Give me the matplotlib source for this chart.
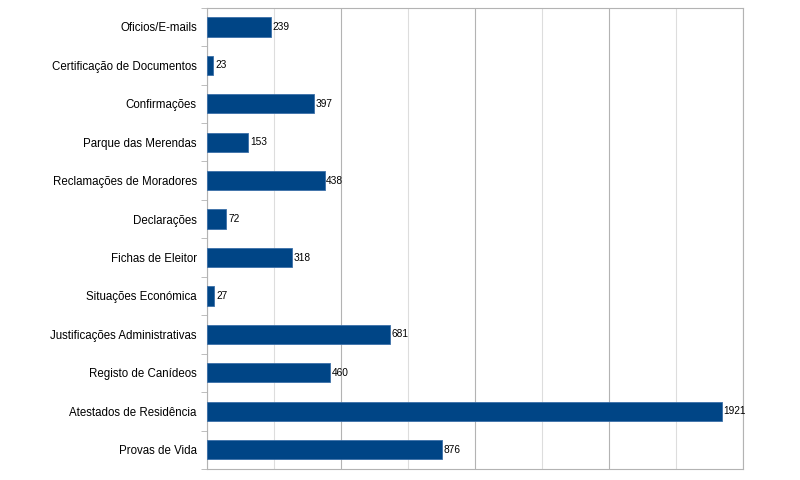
import numpy as np
import matplotlib
matplotlib.use("Agg")
import matplotlib.pyplot as plt
from matplotlib.ticker import MultipleLocator

# Categories listed from top to bottom, as in the chart.

categories = [
    "Oficios/E-mails",
    "Certificação de Documentos",
    "Confirmações",
    "Parque das Merendas",
    "Reclamações de Moradores",
    "Declarações",
    "Fichas de Eleitor",
    "Situações Económica",
    "Justificações Administrativas",
    "Registo de Canídeos",
    "Atestados de Residência",
    "Provas de Vida",
]

counts = [239, 23, 397, 153, 438, 72, 318, 27, 681, 460, 1921, 876]

x_max = 2000

plt.rcParams["font.family"] = ["Liberation Sans Narrow", "Liberation Sans", "DejaVu Sans"]

fig = plt.figure(figsize=(8, 4.8), dpi=100)
ax = fig.add_axes([0.259, 0.023, 0.67, 0.961])

y = np.arange(len(categories))

bars = ax.barh(y, counts, height=0.5, color="#004586", edgecolor="#3b6fa8",
               linewidth=0.6, zorder=3)

for rect, value in zip(bars, counts):
    ax.text(rect.get_width() + 6, rect.get_y() + rect.get_height() / 2,
            str(value), va="center", ha="left", fontsize=7.3, color="#000000")

ax.set_ylim(len(categories) - 0.5, -0.5)
ax.set_xlim(0, x_max)

# Category labels at bar centres, tick marks at category boundaries.
ax.set_yticks(y)
ax.set_yticklabels(categories, fontsize=8.3)
ax.tick_params(axis="y", which="major", length=0, pad=7.5)
ax.set_yticks(np.arange(-0.5, len(categories), 1), minor=True)
ax.tick_params(axis="y", which="minor", length=4, color="#b3b3b3", direction="out")

# Vertical gridlines: darker every 500, lighter in between.
ax.xaxis.set_major_locator(MultipleLocator(500))
ax.xaxis.set_minor_locator(MultipleLocator(250))
ax.grid(axis="x", which="major", color="#b3b3b3", linewidth=0.8, zorder=0)
ax.grid(axis="x", which="minor", color="#dddddd", linewidth=0.8, zorder=0)
ax.tick_params(axis="x", which="both", length=0, labelbottom=False)

for side in ["left", "right", "top", "bottom"]:
    ax.spines[side].set_color("#b3b3b3")
    ax.spines[side].set_linewidth(0.8)

fig.savefig("out.png", dpi=100)
